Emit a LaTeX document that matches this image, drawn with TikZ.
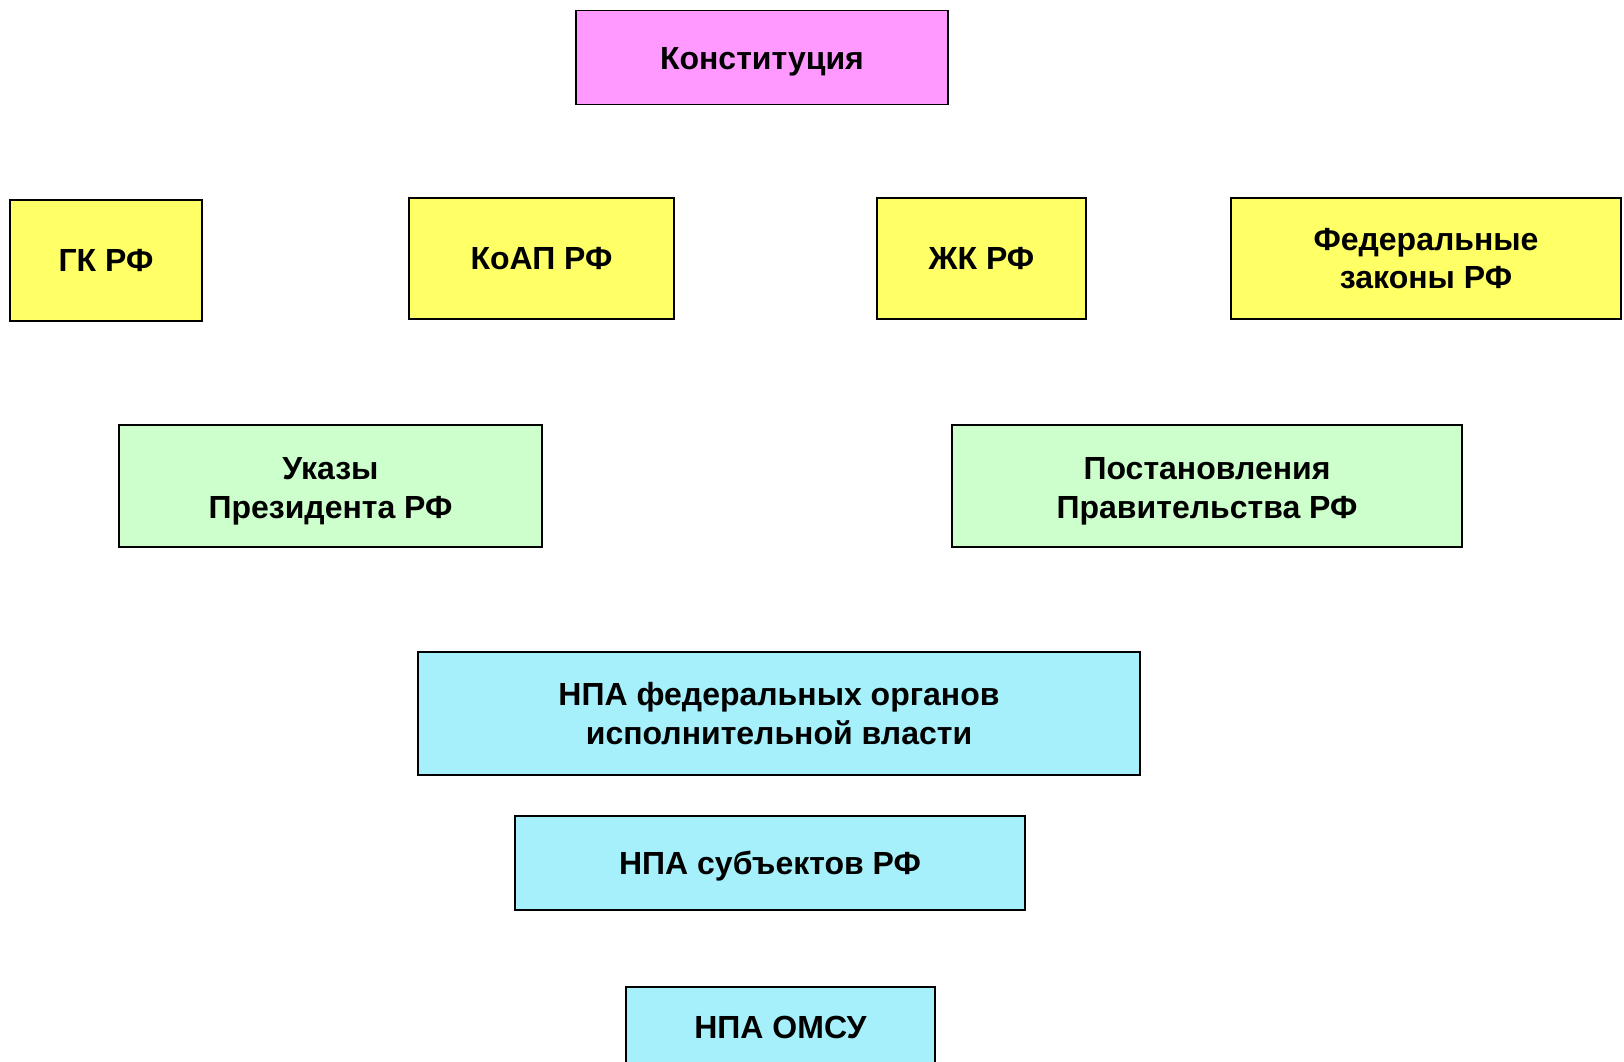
\documentclass[tikz,border=0pt]{standalone}
\usepackage{fontspec}
\setmainfont{Liberation Sans}
\definecolor{pinkbox}{HTML}{FF99FF}
\definecolor{yellowbox}{HTML}{FFFF66}
\definecolor{greenbox}{HTML}{CCFFCC}
\definecolor{cyanbox}{HTML}{A5F0FB}
\begin{document}
\begin{tikzpicture}[x=1pt, y=-1pt,
  law/.style={draw=black, line width=1.6pt, inner sep=0pt, align=center,
    font=\fontsize{32}{38.5}\selectfont\bfseries},
  konstbox/.style={law, fill=pinkbox},
  codebox/.style={law, fill=yellowbox, minimum height=121pt},
  actbox/.style={law, fill=greenbox, minimum height=122pt,
    text height=71.6pt, text depth=6.7pt},
  npabox/.style={law, fill=cyanbox}]
  \useasboundingbox (0, 0) rectangle (1624, 1061);

  % top
  \node[konstbox, minimum width=372pt, minimum height=94pt,
    text height=30.9pt, text depth=6.7pt] (konst) at (762, 57.5) {Конституция};

  % codes and laws
  \node[codebox, minimum width=192pt] (gk) at (106, 260.5) {ГК РФ};
  \node[codebox, minimum width=265pt] (koap) at (541.5, 258.5) {КоАП РФ};
  \node[codebox, minimum width=209pt] (zhk) at (981.5, 258.5) {ЖК РФ};
  \node[codebox, minimum width=390pt] (fz) at (1426, 258.5) {Федеральные\\законы РФ};

  % president and government
  \node[actbox, minimum width=423pt] (ukaz) at (330.5, 486) {Указы\\Президента РФ};
  \node[actbox, minimum width=510pt] (post) at (1207, 486) {Постановления\\Правительства РФ};

  % other acts
  \node[npabox, minimum width=722pt, minimum height=123pt] (npafed) at (779, 713.5) {НПА федеральных органов\\исполнительной власти};
  \node[npabox, minimum width=510pt, minimum height=94pt,
    text height=29.5pt, text depth=6.7pt] (npasub) at (770, 863) {НПА субъектов РФ};
  \node[npabox, minimum width=309pt, minimum height=80pt] (omsu) at (780.5, 1027) {НПА ОМСУ};
\end{tikzpicture}
\end{document}
